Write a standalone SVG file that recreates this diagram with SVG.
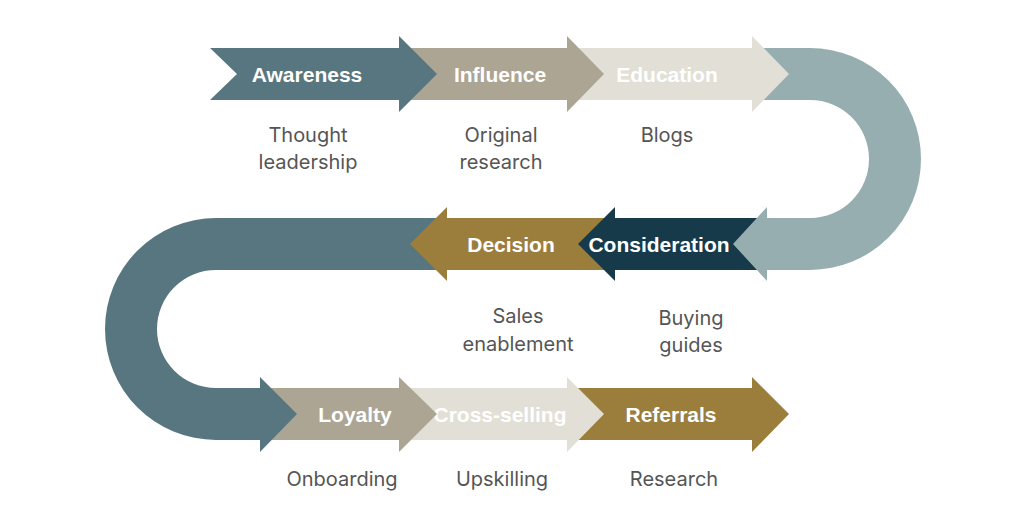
<svg xmlns="http://www.w3.org/2000/svg" width="1024" height="526" viewBox="0 0 1024 526">
<style>
.lbl{font-family:"Liberation Sans",Arial,sans-serif;font-weight:bold;font-size:21px;fill:#ffffff;text-anchor:middle}
.sub{font-family:Inter,"Liberation Sans",sans-serif;font-size:20px;fill:#555555;text-anchor:middle}
.slate{fill:#587680}.taupe{fill:#aca593}.light{fill:#e2dfd6}.sky{fill:#97aeb1}.navy{fill:#163a4a}.gold{fill:#9b7d3c}
</style>
<rect width="1024" height="526" fill="#ffffff"/>
<g id="connectors">
</g>
<g id="referrals">
<polygon class="gold" points="567,388 752,388 752,377 789,414 752,452 752,440 567,440"/>
<text class="lbl" x="671" y="422">Referrals</text>
<text class="sub" x="674" y="486">Research</text>
</g>
<g id="cross-selling">
<polygon class="light" points="399,388 567,388 567,377 604,414 567,452 567,440 399,440"/>
<text class="lbl" x="500" y="422">Cross-selling</text>
<text class="sub" x="502" y="486">Upskilling</text>
</g>
<g id="loyalty">
<polygon class="taupe" points="260,388 399,388 399,377 437,414 399,452 399,440 260,440"/>
<text class="lbl" x="355" y="422">Loyalty</text>
<text class="sub" x="342" y="486">Onboarding</text>
</g>
<g id="turn-left">
<path class="slate" d="M447,218 L216,218 A111,111 0 0 0 216,440 L260,440 L260,452 L297,414 L260,377 L260,388 L216,388 A59,59 0 0 1 216,270 L447,270 Z"/>
</g>
<g id="decision">
<polygon class="gold" points="410,244 447,207 447,218 615,218 615,270 447,270 447,281"/>
<text class="lbl" x="511" y="252">Decision</text>
<text class="sub" x="518" y="323">Sales</text>
<text class="sub" x="518" y="351">enablement</text>
</g>
<g id="consideration">
<polygon class="navy" points="578,244 615,207 615,218 767,218 767,270 615,270 615,281"/>
<text class="lbl" x="659" y="252">Consideration</text>
<text class="sub" x="691" y="325">Buying</text>
<text class="sub" x="691" y="352">guides</text>
</g>
<g id="turn-right">
<path class="sky" d="M752,48 L810,48 A111,111 0 0 1 810,270 L767,270 L767,281 L733,244 L767,207 L767,218 L810,218 A59,59 0 0 0 810,100 L752,100 Z"/>
</g>
<g id="education">
<polygon class="light" points="567,48 752,48 752,36 789,74 752,112 752,100 567,100"/>
<text class="lbl" x="667" y="82">Education</text>
<text class="sub" x="667" y="142">Blogs</text>
</g>
<g id="influence">
<polygon class="taupe" points="399,48 567,48 567,36 604,74 567,112 567,100 399,100"/>
<text class="lbl" x="500" y="82">Influence</text>
<text class="sub" x="501" y="142">Original</text>
<text class="sub" x="501" y="169">research</text>
</g>
<g id="awareness">
<polygon class="slate" points="210,48 399,48 399,36 437,74 399,112 399,100 210,100 237,74"/>
<text class="lbl" x="307" y="82">Awareness</text>
<text class="sub" x="308" y="142">Thought</text>
<text class="sub" x="308" y="169">leadership</text>
</g>
</svg>
